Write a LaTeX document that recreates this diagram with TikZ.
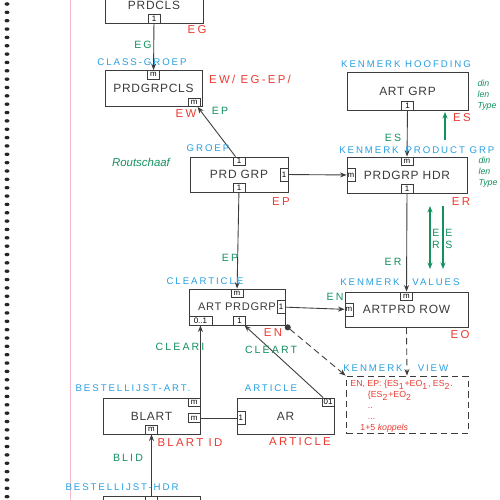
\documentclass[tikz,border=0pt]{standalone}
\usepackage{fontspec}
\setmainfont{Liberation Sans}
\newfontfamily\lblfont[LetterSpace=20]{Liberation Sans}
\newfontfamily\boxfont[LetterSpace=6]{Liberation Sans}
\usepackage{xcolor}
\usetikzlibrary{arrows.meta,positioning}
\definecolor{kblue}{RGB}{40,160,225}
\definecolor{kred}{RGB}{235,60,50}
\definecolor{kgreen}{RGB}{20,145,95}
\definecolor{kline}{RGB}{60,60,60}
\definecolor{kmargin}{RGB}{245,185,205}
\begin{document}
\begin{tikzpicture}[x=0.2mm,y=-0.2mm,
  entity/.style={draw=kline,line width=0.5pt,minimum width=19.4mm,minimum height=7.2mm,inner sep=0pt,text=kline,font=\boxfont\fontsize{6.8}{8}\selectfont},
  tab/.style={draw=kline,line width=0.4pt,inner sep=0.4pt,minimum width=2.4mm,minimum height=1.7mm,font=\fontsize{4.5}{5}\selectfont},
  vtab/.style={tab,minimum width=1.6mm,minimum height=2.6mm},
  blbl/.style={text=kblue,font=\lblfont\fontsize{5.5}{6}\selectfont,inner sep=0pt},
  rlbl/.style={text=kred,font=\lblfont\fontsize{6.5}{7}\selectfont,inner sep=0pt},
  glbl/.style={text=kgreen,font=\lblfont\fontsize{6}{7}\selectfont,inner sep=0pt},
  rel/.style={draw=kline,line width=0.5pt,-{Stealth[length=1.3mm,width=1mm]}},
  garrow/.style={draw=kgreen,line width=0.6pt,-{Stealth[length=1.3mm,width=1mm]}},
  dashrel/.style={rel,dash pattern=on 1.3mm off 0.8mm}]
\useasboundingbox (0,0) rectangle (500,500);
\fill[white] (0,0) rectangle (500,500);
\draw[kmargin,line width=0.5pt] (70,0) -- (70,500);
\foreach \i in {0,...,59} \fill[black!85] (7,{4+8.35*\i}) ellipse [x radius=0.5mm,y radius=0.35mm];

\node[entity,minimum width=19.6mm] (prdcls) at (154,5) {PRDCLS};
\node[entity] (prdgrpcls) at (153.5,88.5) {PRDGRPCLS};
\node[entity,minimum width=19.6mm,minimum height=7mm] (prdgrp) at (239,174.5) {PRD GRP};
\node[entity,minimum width=24.2mm,minimum height=7.6mm] (artgrp) at (407.5,91) {ART GRP};
\node[entity,minimum width=24mm] (prdgrphdr) at (407,175) {PRDGRP HDR};
\node[entity,minimum width=24.6mm,minimum height=7mm] (artprdrow) at (406.5,309.5) {ARTPRD ROW};
\node[entity,minimum width=19.2mm,font=\boxfont\fontsize{6.3}{8}\selectfont] (artprdgrp) at (237,307) {ART PRDGRP\hspace{1.2mm}};
\node[entity,dash pattern=on 1.3mm off 0.8mm,minimum width=24.4mm,minimum height=11.4mm] (kview) at (407,404.5) {};
\node[entity] (blart) at (151.5,416) {BLART};
\node[entity] (ar) at (285.5,416) {AR};
\node[entity] (blhdr) at (151.5,514) {};

\node[tab,anchor=south] (prdcls-b) at (prdcls.south) {1};
\node[tab,anchor=north] (prdgrpcls-t) at (prdgrpcls.north) {m};
\node[tab,anchor=south east] (prdgrpcls-r) at ([xshift=-0.4mm]prdgrpcls.south east) {m};
\node[tab,anchor=north] (prdgrp-t) at (prdgrp.north) {1};
\node[vtab,anchor=east] (prdgrp-r) at (prdgrp.east) {1};
\node[tab,anchor=south] (prdgrp-b) at (prdgrp.south) {1};
\node[tab,anchor=south] (artgrp-b) at (artgrp.south) {1};
\node[tab,anchor=north] (prdgrphdr-t) at (prdgrphdr.north) {m};
\node[vtab,anchor=west] (prdgrphdr-l) at (prdgrphdr.west) {m};
\node[tab,anchor=south] (prdgrphdr-b) at (prdgrphdr.south) {1};
\node[tab,anchor=north] (artprdrow-t) at (artprdrow.north) {m};
\node[vtab,anchor=west] (artprdrow-l) at (artprdrow.west) {m};
\node[tab,anchor=north] (artprdgrp-t) at (artprdgrp.north) {m};
\node[vtab,anchor=east] (artprdgrp-r) at (artprdgrp.east) {1};
\node[tab,anchor=south] (artprdgrp-b) at ([xshift=0.5mm]artprdgrp.south) {1};
\node[tab,anchor=south west,minimum width=4.6mm] (artprdgrp-bl) at (artprdgrp.south west) {0..1};
\node[tab,anchor=north east] (blart-tr) at (blart.north east) {m};
\node[tab,anchor=east] (blart-r) at ([yshift=-0.4mm]blart.east) {m};
\node[tab,anchor=south] (blart-b) at (blart.south) {m};
\node[vtab,anchor=west] (ar-l) at ([yshift=-0.4mm]ar.west) {1};
\node[tab,anchor=north east] (ar-tr) at (ar.north east) {01};
\node[tab,anchor=north] (blhdr-t) at (blhdr.north) {};

\draw[rel] (prdcls-b) -- (prdgrpcls-t);
\draw[rel] (prdgrp-t) -- (prdgrpcls-r);
\draw[rel] (prdgrp-r) -- (prdgrphdr-l);
\draw[rel] (artgrp-b) -- (prdgrphdr-t);
\draw[rel] (prdgrphdr-b) -- (artprdrow-t);
\draw[rel] (prdgrp-b) -- (artprdgrp-t);
\draw[rel] (artprdgrp-r) -- (artprdrow-l);
\draw[dashrel] (artprdrow.south) -- (kview.north);
\draw[dashrel,{Circle[length=1.2mm]}-{Stealth[length=1.3mm,width=1mm]}] (artprdgrp.south east) -- (kview.north west);
\draw[rel,-{Stealth[open,length=1.3mm,width=1mm]}] (ar-tr) -- (artprdgrp-b);
\draw[rel] (blart.north east) -- (blart.north east |- artprdgrp-bl.south);
\draw[draw=kline,line width=0.5pt] (blart-r) -- (ar-l);
\draw[rel] (blhdr-t) -- (blart-b);

\coordinate (esup-a) at (445,140);
\coordinate (esup-b) at (445,112);
\coordinate (er-a) at (430,206);
\coordinate (er-b) at (430,269);
\coordinate (es-a) at (443,206);
\coordinate (es-b) at (443,269);
\draw[garrow] (esup-a) -- (esup-b);
\draw[garrow,{Stealth[length=1.3mm,width=1mm]}-{Stealth[length=1.3mm,width=1mm]}] (er-a) -- (er-b);
\draw[garrow] (es-a) -- (es-b);

\node[rlbl] (l-eg) at (197,30) {EG};
\node[glbl] (l-eg2) at (143,45) {EG};
\node[blbl] (l-classgroep) at (142,62) {CLASS-GROEP};
\node[rlbl] (l-ewegep) at (250,79) {EW/ EG-EP/};
\node[rlbl] (l-ew) at (186,114) {EW};
\node[glbl] (l-ep) at (220,111) {EP};
\node[blbl] (l-groep) at (208,148) {GROEP};
\node[glbl,font=\itshape\fontsize{6.5}{7}\selectfont] (l-rout) at (141,162) {Routschaaf};
\node[rlbl] (l-ep2) at (281,202) {EP};
\node[blbl] (l-kenhoof) at (406,64) {KENMERK HOOFDING};
\node[glbl,font=\itshape\fontsize{5}{6.2}\selectfont,align=left] (l-type1) at (487,95) {din\\len\\Type};
\node[rlbl] (l-es) at (462,118) {ES};
\node[glbl] (l-es2) at (393,138) {ES};
\node[blbl] (l-ken1) at (369,150) {KENMERK};
\node[blbl] (l-prodgrp) at (450,150) {PRODUCT GRP};
\node[glbl,font=\itshape\fontsize{5}{6.2}\selectfont,align=left] (l-type2) at (488,172) {din\\len\\Type};
\node[rlbl] (l-er) at (461,202) {ER};
\node[glbl,align=center] (l-er2) at (436,239) {E\\R};
\node[glbl,align=center] (l-es3) at (449,239) {E\\S};
\node[glbl] (l-er3) at (393,262) {ER};
\node[blbl] (l-ken2) at (370,282) {KENMERK};
\node[blbl] (l-values) at (436,282) {VALUES};
\node[glbl] (l-en) at (335,297) {EN};
\node[rlbl] (l-eo) at (460,335) {EO};
\node[blbl] (l-cleart) at (205,281) {CLEARTICLE};
\node[glbl] (l-ep3) at (230,258) {EP};
\node[rlbl] (l-en2) at (273,333) {EN};
\node[glbl] (l-cleart2) at (271,350) {CLEART};
\node[glbl] (l-cleari) at (180,347) {CLEARI};
\node[blbl] (l-ken3) at (373,368) {KENMERK};
\node[blbl] (l-view) at (433,368) {VIEW};
\node[text=kred,font=\fontsize{5}{6.2}\selectfont,anchor=north west,align=left,inner sep=0pt] (kview-txt) at ([xshift=0.9mm,yshift=-0.9mm]kview.north west) {EN, EP: \{ES\textsubscript{1}+EO\textsubscript{1}, ES\textsubscript{2}.\\ \hspace{3.5mm}\{ES\textsubscript{2}+EO\textsubscript{2}\\ \hspace{3.5mm}..\\ \hspace{3.5mm}...\\ \hspace{2mm}1+5 \textit{koppels}};
\node[blbl] (l-blart) at (133,388) {BESTELLIJST-ART.};
\node[blbl] (l-article) at (271,388) {ARTICLE};
\node[rlbl] (l-blartid) at (190,443) {BLART ID};
\node[rlbl] (l-article2) at (300,442) {ARTICLE};
\node[glbl] (l-blid) at (128,458) {BLID};
\node[blbl] (l-blhdr) at (122,487) {BESTELLIJST-HDR};
\end{tikzpicture}
\end{document}
